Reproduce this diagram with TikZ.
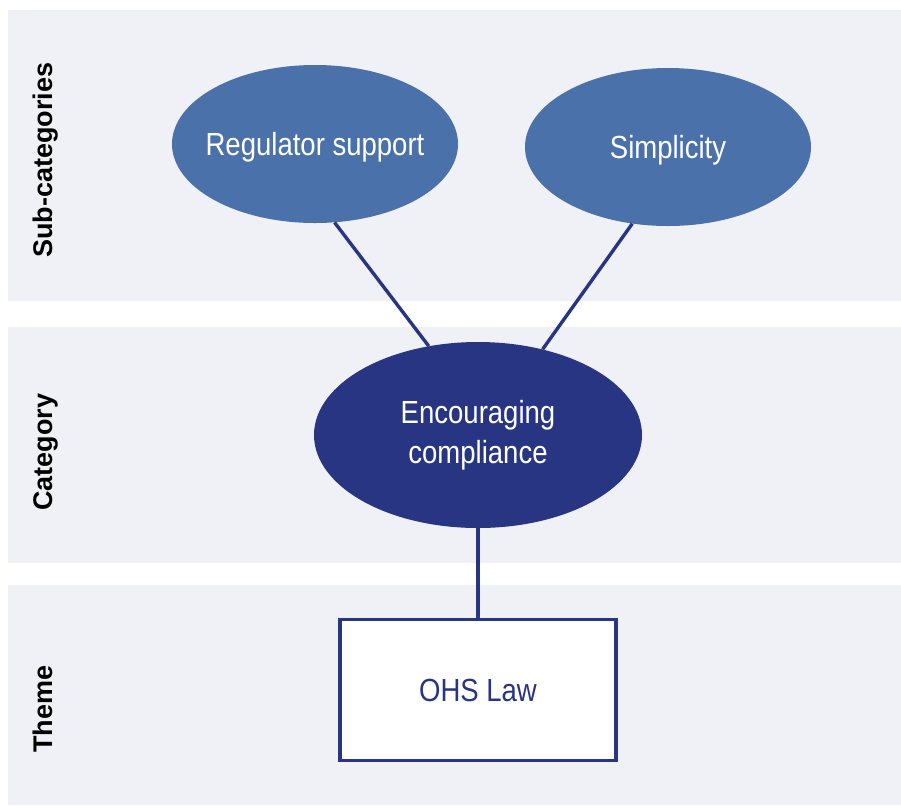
\documentclass[tikz,border=0pt]{standalone}
\usepackage{fontspec}
\setmainfont{Liberation Sans}
\newfontfamily\narrowfont[FakeStretch=0.86]{Liberation Sans}
\usetikzlibrary{shapes.geometric}
\definecolor{bandgray}{HTML}{F0F1F6}
\definecolor{subblue}{HTML}{4A71AA}
\definecolor{navy}{HTML}{283583}

\begin{document}
\begin{tikzpicture}[
    x=1pt, y=-1pt,
    band/.style={fill=bandgray},
    rowlbl/.style={rotate=90, anchor=base, font=\fontsize{27}{32}\selectfont\bfseries},
    subcat/.style={ellipse, fill=subblue, text=white, inner ysep=0pt,
      inner xsep=-40pt, text depth=0pt,
      minimum width=286pt, minimum height=158pt,
      font=\narrowfont\fontsize{32}{40}\selectfont},
    cat/.style={ellipse, fill=navy, text=white, inner sep=0pt, align=center,
      minimum width=328pt, minimum height=186pt,
      font=\narrowfont\fontsize{32}{40}\selectfont},
    theme/.style={draw=navy, line width=3.5pt, fill=white, text=navy,
      minimum width=276pt, minimum height=141pt,
      font=\narrowfont\fontsize{32}{40}\selectfont},
    link/.style={navy, line width=3.4pt},
  ]
    \def\bx{901}  % right edge of the bands

    \fill[white] (0,0) rectangle (901,807);
    \useasboundingbox (0,0) rectangle (901,807);

    % Bands
    \fill[band] (8,10)  rectangle (\bx,301);
    \fill[band] (8,327) rectangle (\bx,563);
    \fill[band] (8,585) rectangle (\bx,805);

    % Row labels
    \node[rowlbl] (lsub)   at (52,160) {Sub-categories};
    \node[rowlbl] (lcat)   at (52,452) {Category};
    \node[rowlbl] (ltheme) at (52,709) {Theme};

    % Sub-categories
    \node[subcat] (reg)  at (315,144) {Regulator support};
    \node[subcat] (simp) at (668,147) {Simplicity};

    % Category and theme
    \node[cat]   (enc) at (478,435) {Encouraging\\compliance};
    \node[theme] (law) at (478,690) {OHS Law};

    \draw[link] (reg.-76)   -- (enc.119);
    \draw[link] (simp.-115) -- (enc.53);
    \draw[link] (enc) -- (law);
\end{tikzpicture}
\end{document}
